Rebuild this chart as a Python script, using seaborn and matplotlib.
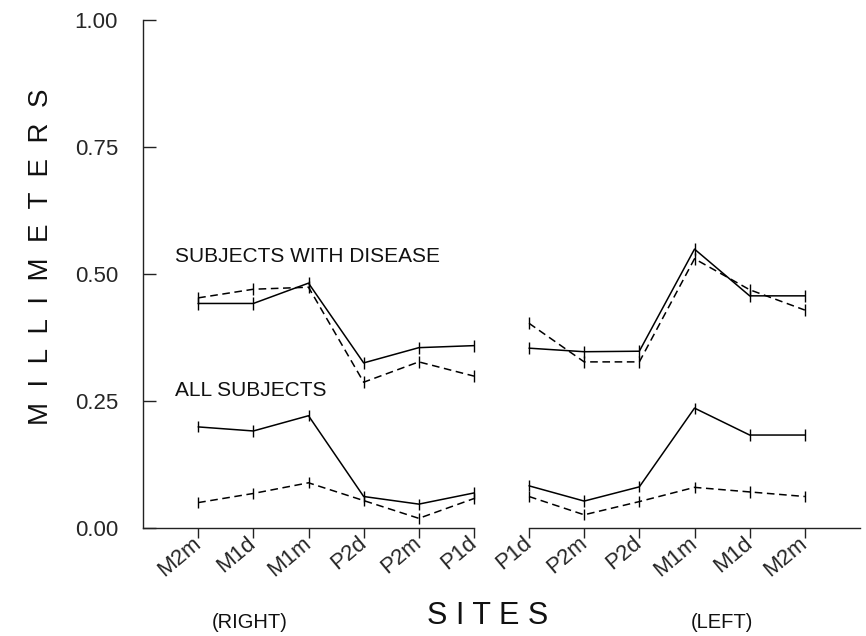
import matplotlib
matplotlib.use("Agg")
import matplotlib.pyplot as plt
import seaborn as sns
import numpy as np
import pandas as pd

# ---- data ----
right_sites = ["M2m", "M1d", "M1m", "P2d", "P2m", "P1d"]
left_sites = ["P1d", "P2m", "P2d", "M1m", "M1d", "M2m"]

# Subjects with disease
disease_solid_right = [0.442, 0.442, 0.482, 0.325, 0.355, 0.359]
disease_dashed_right = [0.453, 0.470, 0.474, 0.287, 0.327, 0.299]
disease_solid_left = [0.354, 0.347, 0.348, 0.549, 0.457, 0.457]
disease_dashed_left = [0.403, 0.327, 0.327, 0.530, 0.469, 0.429]

# All subjects
all_solid_right = [0.199, 0.191, 0.221, 0.062, 0.047, 0.069]
all_dashed_right = [0.050, 0.068, 0.089, 0.054, 0.019, 0.058]
all_solid_left = [0.083, 0.053, 0.081, 0.236, 0.183, 0.183]
all_dashed_left = [0.062, 0.026, 0.052, 0.080, 0.071, 0.062]

# error bar half-lengths
err_disease = [0.012, 0.012, 0.012, 0.012, 0.012, 0.012]
err_all = [0.011, 0.011, 0.011, 0.011, 0.011, 0.011]

y_ticks = [0.00, 0.25, 0.50, 0.75, 1.00]

# ---- build long table ----
rows = []
def add(side, group, measure, values, errs):
    sites = right_sites if side == "right" else left_sites
    offset = 0 if side == "right" else 6
    for i, (s, v, e) in enumerate(zip(sites, values, errs)):
        rows.append(dict(side=side, group=group, measure=measure,
                         curve=f"{group}-{measure}", pos=offset + i,
                         site=s, value=v, err=e))

add("right", "disease", "solid", disease_solid_right, err_disease)
add("right", "disease", "dashed", disease_dashed_right, err_disease)
add("left", "disease", "solid", disease_solid_left, err_disease)
add("left", "disease", "dashed", disease_dashed_left, err_disease)
add("right", "all", "solid", all_solid_right, err_all)
add("right", "all", "dashed", all_dashed_right, err_all)
add("left", "all", "solid", all_solid_left, err_all)
add("left", "all", "dashed", all_dashed_left, err_all)
df = pd.DataFrame(rows)

sns.set_style("ticks")
plt.rcParams["font.family"] = ["Liberation Sans", "DejaVu Sans"]

W, H = 866, 636
fig = plt.figure(figsize=(W / 100, H / 100), dpi=100)
ax_top_px, ax_bot_px = 20, 528
bottom = 1 - ax_bot_px / H
height = (ax_bot_px - ax_top_px) / H
axL = fig.add_axes([143 / W, bottom, 331 / W, height])
axR = fig.add_axes([529 / W, bottom, 331 / W, height], sharey=axL)

lw = 1.1
for ax, side, xlim, sites in [(axL, "right", (-1, 5), right_sites),
                              (axR, "left", (6, 12), left_sites)]:
    sub = df[df.side == side]
    sns.lineplot(data=sub, x="pos", y="value", units="curve", estimator=None,
                 style="measure", dashes={"solid": "", "dashed": (5, 3)},
                 color="black", linewidth=lw, legend=False, sort=False, ax=ax)
    eb = ax.errorbar(sub.pos, sub.value, yerr=sub.err, fmt="none",
                     ecolor="black", elinewidth=1.0, capsize=0)
    for ln in ax.lines:
        ln.set_clip_on(False)
    for coll in ax.collections:
        coll.set_clip_on(False)
    ax.set_xlim(*xlim)
    ax.set_xticks(sorted(sub.pos.unique()))
    ax.set_xticklabels(sites, rotation=40, ha="right", va="center",
                       rotation_mode="anchor", fontsize=16)
    ax.tick_params(axis="x", direction="out", length=7, width=1.0, pad=2,
                   color="#222222")
    ax.set_xlabel("")
    ax.set_ylabel("")
    for sp in ["top", "right"]:
        ax.spines[sp].set_visible(False)
    ax.spines["bottom"].set_linewidth(1.0)
    ax.spines["bottom"].set_color("#222222")

axL.set_ylim(0, 1)
axL.set_yticks(y_ticks)
axL.set_yticklabels([f"{t:.2f}" for t in y_ticks], fontsize=16)
axL.tick_params(axis="y", direction="in", length=9, width=1.0, pad=18,
                color="#222222")
axL.spines["left"].set_linewidth(1.0)
axL.spines["left"].set_color("#222222")
axR.spines["left"].set_visible(False)
axR.tick_params(axis="y", left=False, labelleft=False)

axL.text(-0.42, 0.524, "SUBJECTS WITH DISEASE", fontsize=15, va="baseline",
         ha="left", color="#111111")
axL.text(-0.42, 0.260, "ALL SUBJECTS", fontsize=15, va="baseline",
         ha="left", color="#111111")

fig.text(41 / W, 1 - 257 / H, "M  I  L  L  I  M  E  T  E  R  S", rotation=90,
         ha="center", va="center", fontsize=20, color="#111111")
fig.text(488 / W, 1 - 616 / H, "S I T E S", ha="center", va="center",
         fontsize=22, color="#111111")
fig.text(250 / W, 1 - 623 / H, "(RIGHT)", ha="center", va="center",
         fontsize=14.5, color="#111111")
fig.text(722 / W, 1 - 623 / H, "(LEFT)", ha="center", va="center",
         fontsize=14.5, color="#111111")

fig.savefig("out.png", dpi=100)
